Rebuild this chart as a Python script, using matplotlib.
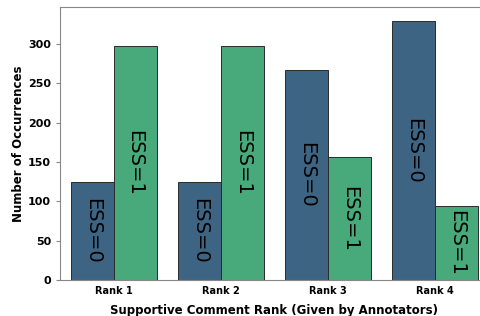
import numpy as np
import matplotlib
matplotlib.use('Agg')
import matplotlib.pyplot as plt

ranks = ['Rank 1', 'Rank 2', 'Rank 3', 'Rank 4']
ess0 = [125, 124, 267, 329]
ess1 = [298, 298, 156, 94]
colors = ['#3d6583', '#48a97a']

fig = plt.figure(figsize=(4.81, 3.16), dpi=100)
ax = fig.add_axes([60/481, 36/316, 429/481, 273/316])

x = np.arange(len(ranks))
w = 0.4
b0 = ax.bar(x - w/2, ess0, w, color=colors[0], edgecolor='#2b2b2b', linewidth=0.7)
b1 = ax.bar(x + w/2, ess1, w, color=colors[1], edgecolor='#2b2b2b', linewidth=0.7)

for bars, lab in [(b0, 'ESS=0'), (b1, 'ESS=1')]:
    for r in bars:
        h = r.get_height()
        ax.text(r.get_x() + r.get_width()/2, h/2, lab, rotation=270,
                ha='center', va='center', fontsize=14, color='black')

ax.set_xlim(-0.5, 3.5)
ax.set_ylim(0, 347)
ax.set_xticks(x)
ax.set_xticklabels(ranks, fontsize=7, fontweight='bold')
ax.tick_params(axis='x', length=0, pad=4)
ax.tick_params(axis='y', labelsize=8, length=3, color='#888888')
for t in ax.get_yticklabels():
    t.set_fontweight('bold')
ax.set_xlabel('Supportive Comment Rank (Given by Annotators)', fontsize=8.5,
              fontweight='bold', labelpad=6)
ax.set_ylabel('Number of Occurrences', fontsize=8.5, fontweight='bold', labelpad=2)
for s in ax.spines.values():
    s.set_color('#888888')

fig.savefig('out.png', dpi=100)
